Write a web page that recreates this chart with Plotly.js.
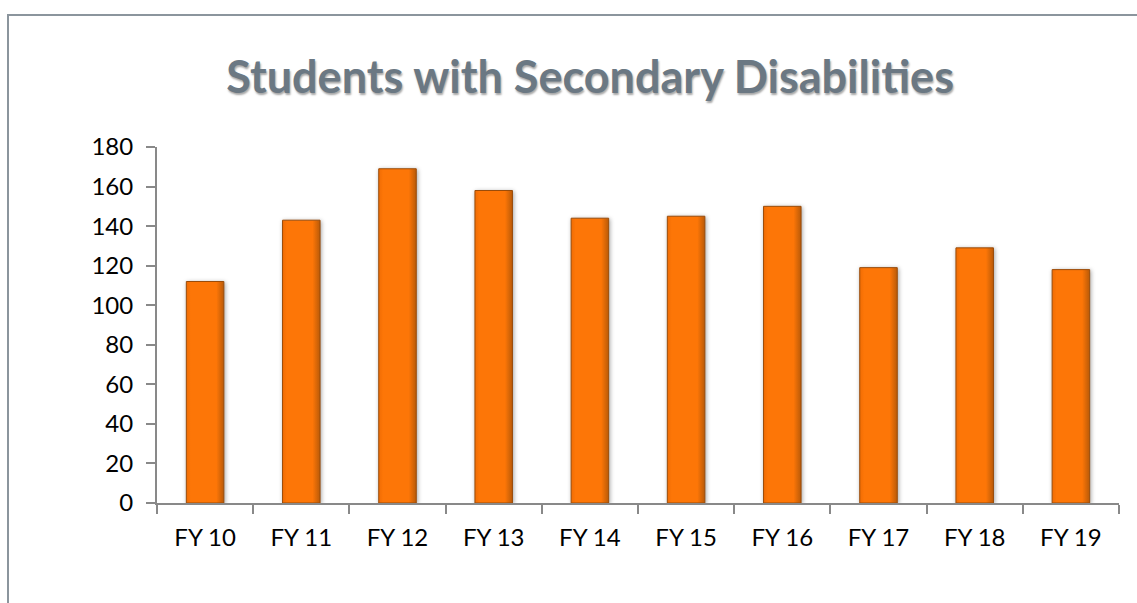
<!DOCTYPE html>
<html>
<head>
<meta charset="utf-8">
<script src="https://cdn.plot.ly/plotly-3.0.1.min.js"></script>
<style>
  html, body { margin: 0; padding: 0; background: #fff; overflow: hidden; }
  #chart { position: absolute; left: 0; top: 0; width: 1137px; height: 603px; }
  #frame { position: absolute; left: 7px; top: 14px; width: 1200px; height: 700px;
           border: 2px solid #8b959d; pointer-events: none; }
  .trace.bars .point path { filter: drop-shadow(1px 1px 2px rgba(0,0,0,0.35)); }
</style>
</head>
<body>
<div id="chart"></div>
<div id="frame"></div>
<script>
const categories = ["FY 10", "FY 11", "FY 12", "FY 13", "FY 14", "FY 15", "FY 16", "FY 17", "FY 18", "FY 19"];
const students = [112, 143, 169, 158, 144, 145, 150, 119, 129, 118];
const yTicks = [0, 20, 40, 60, 80, 100, 120, 140, 160, 180];

const trace = {
  type: "bar",
  x: categories,
  y: students,
  marker: { color: "#fd7607", line: { color: "#9a4c0a", width: 1 } },
  hoverinfo: "x+y"
};

const layout = {
  width: 1137, height: 603,
  margin: { l: 157, r: 18, t: 147, b: 100, pad: 0 },
  paper_bgcolor: "rgba(0,0,0,0)",
  plot_bgcolor: "rgba(0,0,0,0)",
  bargap: 0.61,
  showlegend: false,
  title: {
    text: "Students with Secondary Disabilities",
    x: 0.519, xanchor: "center",
    y: 0.845, yanchor: "bottom",
    font: { family: "Lato, 'Open Sans', sans-serif", size: 45, color: "#6b7883", weight: "bold",
            shadow: "1px 2px 2px rgba(0,0,0,0.35)" }
  },
  xaxis: {
    type: "category",
    showline: true, linecolor: "#898989", linewidth: 2,
    ticks: "outside", tickson: "boundaries", ticklen: 9, tickcolor: "#898989", tickwidth: 2,
    showgrid: false, zeroline: false,
    tickfont: { family: "Lato, 'Open Sans', sans-serif", size: 24, color: "#000" },
    ticklabelstandoff: 12
  },
  yaxis: {
    range: [0, 180],
    tickvals: yTicks,
    ticktext: yTicks.map(String),
    showline: true, linecolor: "#898989", linewidth: 2,
    ticks: "outside", ticklen: 9, tickcolor: "#898989", tickwidth: 2,
    showgrid: false, zeroline: false,
    tickfont: { family: "Lato, 'Open Sans', sans-serif", size: 24, color: "#000" },
    ticklabelstandoff: 8
  }
};

Plotly.newPlot("chart", [trace], layout, { displayModeBar: false, staticPlot: true }).then(function (gd) {
  const svg = gd.querySelector("svg.main-svg");
  const ns = "http://www.w3.org/2000/svg";
  let defs = svg.querySelector("defs");
  if (!defs) { defs = document.createElementNS(ns, "defs"); svg.insertBefore(defs, svg.firstChild); }
  const grad = document.createElementNS(ns, "linearGradient");
  grad.setAttribute("id", "barGrad");
  grad.setAttribute("x1", "0"); grad.setAttribute("y1", "0");
  grad.setAttribute("x2", "1"); grad.setAttribute("y2", "0");
  [["0", "#f06c04"], ["0.12", "#fd7607"], ["0.8", "#fd7607"], ["1", "#b95a08"]].forEach(function (s) {
    const st = document.createElementNS(ns, "stop");
    st.setAttribute("offset", s[0]); st.setAttribute("stop-color", s[1]);
    grad.appendChild(st);
  });
  defs.appendChild(grad);
  gd.querySelectorAll(".trace.bars .point path").forEach(function (p) {
    p.style.fill = "url(#barGrad)";
  });
});
</script>
</body>
</html>
